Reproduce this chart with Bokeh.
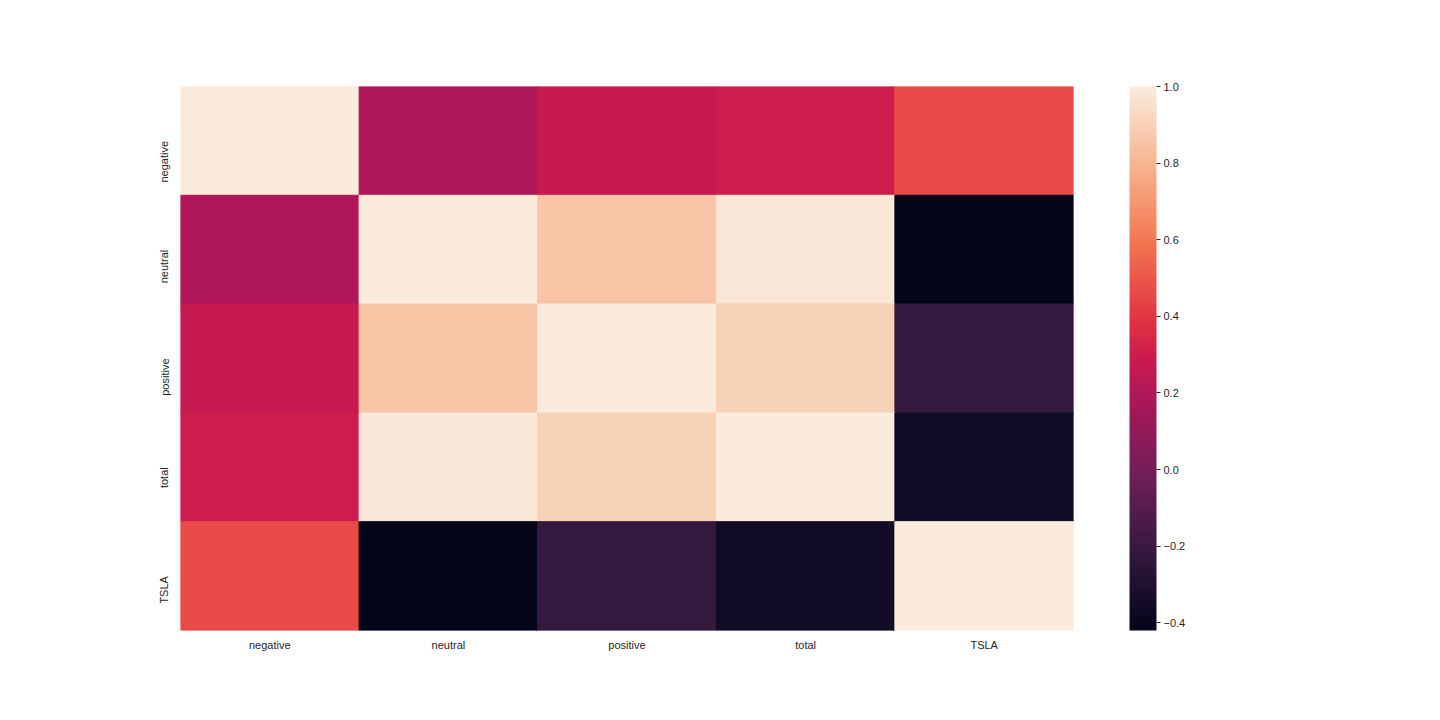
import numpy as np
from bokeh.plotting import figure
from bokeh.models import (ColumnDataSource, LinearColorMapper, ColorBar, FixedTicker,
                          FactorRange, CustomJSTickFormatter)
from bokeh.embed import file_html
from bokeh.resources import INLINE

labels = ["negative", "neutral", "positive", "total", "TSLA"]
row_negative = [1.00, 0.20, 0.276, 0.297, 0.46]
row_neutral = [0.20, 1.00, 0.855, 0.98, -0.42]
row_positive = [0.276, 0.855, 1.00, 0.905, -0.22]
row_total = [0.297, 0.98, 0.905, 1.00, -0.35]
row_tsla = [0.46, -0.42, -0.22, -0.35, 1.00]
rows = [row_negative, row_neutral, row_positive, row_total, row_tsla]
cbar_ticks = [-0.4, -0.2, 0.0, 0.2, 0.4, 0.6, 0.8, 1.0]

# rocket colormap anchors (seaborn)
anchors = [(0.0, "#03051a"), (1/7, "#35193e"), (2/7, "#701f57"), (3/7, "#ad1759"),
           (0.5, "#cb1b4f"), (4/7, "#e13342"), (5/7, "#f37651"), (6/7, "#f6b48f"),
           (1.0, "#faebdd")]
def hex2rgb(h):
    return [int(h[i:i+2], 16) for i in (1, 3, 5)]
pos = np.array([a[0] for a in anchors])
rgb = np.array([hex2rgb(a[1]) for a in anchors], dtype=float)
t = np.linspace(0, 1, 256)
palette = []
for v in t:
    c = [np.interp(v, pos, rgb[:, k]) for k in range(3)]
    palette.append("#%02x%02x%02x" % tuple(int(round(x)) for x in c))

xs, ys, vals = [], [], []
for i, r in enumerate(labels):
    for j, c in enumerate(labels):
        xs.append(c)
        ys.append(r)
        vals.append(rows[i][j])
src = ColumnDataSource(dict(x=xs, y=ys, v=vals))

vmin = min(vals)
mapper = LinearColorMapper(palette=palette, low=vmin, high=1.0)

p = figure(width=1424, height=704, x_range=FactorRange(*labels),
           y_range=FactorRange(*list(reversed(labels))),
           output_backend="svg", toolbar_location=None,
           min_border_left=180, min_border_top=86, min_border_bottom=74, min_border_right=351)
p.rect(x="x", y="y", width=1, height=1, source=src,
       fill_color={"field": "v", "transform": mapper},
       line_color={"field": "v", "transform": mapper}, line_width=1)

p.outline_line_color = None
p.grid.grid_line_color = None
p.background_fill_color = "white"
p.border_fill_color = "white"
for ax in (p.xaxis[0], p.yaxis[0]):
    ax.axis_line_color = None
    ax.major_tick_line_color = None
    ax.minor_tick_line_color = None
    ax.major_tick_out = 0
    ax.major_tick_in = 0
    ax.major_label_text_font = "Liberation Sans"
    ax.major_label_text_font_size = "11px"
    ax.major_label_text_color = "#262626"
    ax.major_label_standoff = 8
p.yaxis[0].major_label_orientation = np.pi / 2
p.yaxis[0].major_label_standoff = 16

fmt = CustomJSTickFormatter(code="return tick.toFixed(1).replace('-', '\u2212');")
cb = ColorBar(color_mapper=mapper, ticker=FixedTicker(ticks=cbar_ticks), formatter=fmt,
              width=27, height=544, location=(56, 0), margin=0, padding=0,
              major_tick_out=4, major_tick_in=0, major_tick_line_color="#262626",
              major_label_text_font="Liberation Sans", major_label_text_font_size="11px",
              major_label_text_color="#262626", label_standoff=3,
              bar_line_color=None, border_line_color=None, background_fill_color=None)
p.add_layout(cb, "right")

open("out.html", "w").write(file_html(p, INLINE))
